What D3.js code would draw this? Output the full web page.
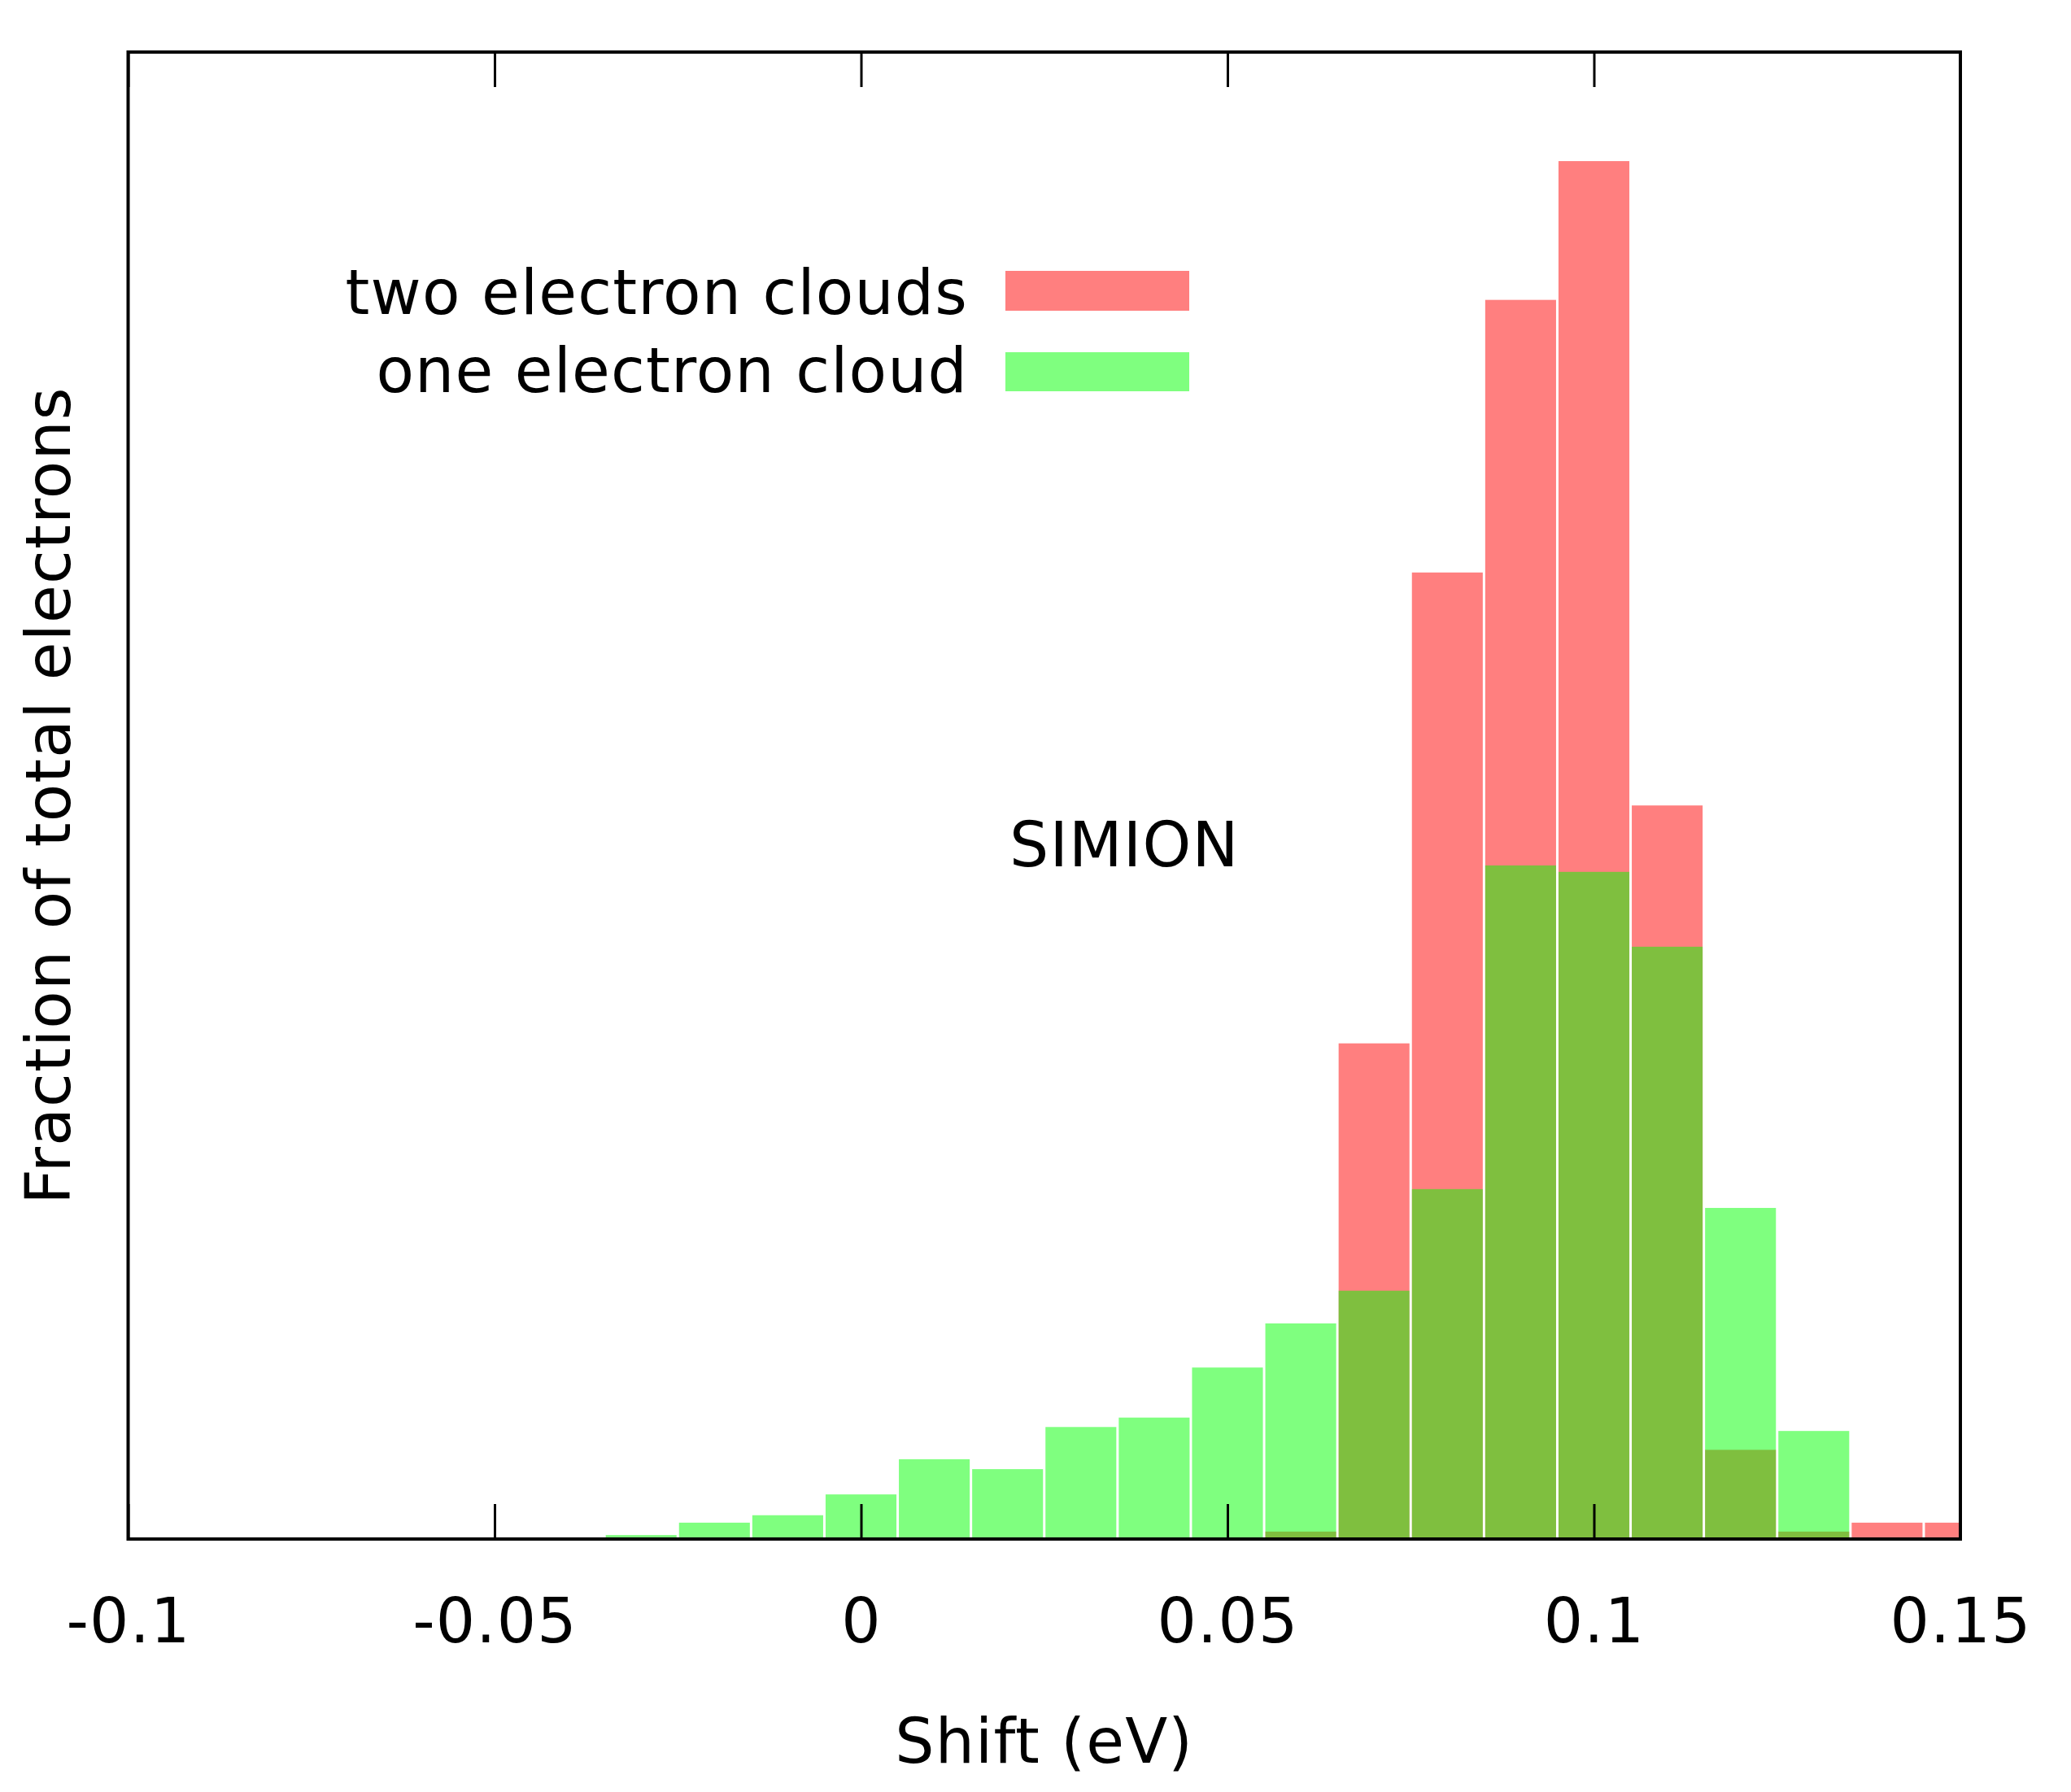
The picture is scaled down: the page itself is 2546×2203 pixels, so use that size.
<!DOCTYPE html>
<html>
<head>
<meta charset="utf-8">
<script src="https://cdn.jsdelivr.net/npm/d3@7"></script>
<style>
  html, body { margin: 0; padding: 0; background: #fff; }
  svg { display: block; }
  text { font-family: "DejaVu Sans", sans-serif; fill: #000; letter-spacing: 1.2px; }
</style>
</head>
<body>
<svg id="chart" width="2546" height="2203"></svg>
<script>
// ---- data ----
const binWidth = 0.01;
const twoCloudBins = [0.06, 0.07, 0.08, 0.09, 0.10, 0.11, 0.12, 0.13, 0.14, 0.15];
const twoCloudValues = [0.0015, 0.100, 0.195, 0.250, 0.278, 0.148, 0.018, 0.0015, 0.0033, 0.0033];
const oneCloudBins = [-0.03, -0.02, -0.01, 0.00, 0.01, 0.02, 0.03, 0.04, 0.05, 0.06, 0.07, 0.08, 0.09, 0.10, 0.11, 0.12, 0.13];
const oneCloudValues = [0.0008, 0.0033, 0.0048, 0.0090, 0.0161, 0.0141, 0.0226, 0.0245, 0.0346, 0.0435, 0.0501, 0.0706, 0.1359, 0.1346, 0.1195, 0.0668, 0.0218];
const xTickValues = [-0.1, -0.05, 0, 0.05, 0.1, 0.15];
const xTickLabels = ["-0.1", "-0.05", "0", "0.05", "0.1", "0.15"];
const seriesNames = ["two electron clouds", "one electron cloud"];
const seriesColors = ["rgba(255,0,0,0.5)", "rgba(0,255,0,0.5)"];
const xTitle = "Shift (eV)";
const yTitle = "Fraction of total electrons";
const annotation = "SIMION";

// ---- layout ----
const L = 157.5, R = 2410, T = 64, B = 1892;
const fontSize = 76;
const svg = d3.select("#chart");

const x = d3.scaleLinear().domain([-0.1, 0.15]).range([L, R]);
const y = d3.scaleLinear().domain([0, 0.3]).range([B, T]);

svg.append("defs").append("clipPath").attr("id", "plotclip")
  .append("rect").attr("x", L).attr("y", T).attr("width", R - L).attr("height", B - T);

const plot = svg.append("g").attr("clip-path", "url(#plotclip)");
const gap = 3;

function drawSeries(bins, values, color) {
  const data = bins.map((b, i) => ({ b, v: values[i] }));
  plot.append("g").selectAll("rect").data(data).enter().append("rect")
    .attr("x", d => x(d.b - binWidth / 2) + gap / 2)
    .attr("width", d => x(d.b + binWidth / 2) - x(d.b - binWidth / 2) - gap)
    .attr("y", d => y(d.v))
    .attr("height", d => y(0) - y(d.v))
    .attr("fill", color);
}
drawSeries(twoCloudBins, twoCloudValues, seriesColors[0]);
drawSeries(oneCloudBins, oneCloudValues, seriesColors[1]);

// ---- axes ----
const fmt = d => xTickLabels[xTickValues.indexOf(d)];
const bottomAxis = d3.axisBottom(x).tickValues(xTickValues).tickSize(-43).tickFormat(fmt);
const gb = svg.append("g").attr("transform", `translate(0,${B})`).call(bottomAxis);
gb.select(".domain").remove();
gb.selectAll(".tick line").attr("stroke", "#000").attr("stroke-width", 3);
gb.selectAll(".tick text")
  .attr("y", 127).attr("dy", 0)
  .style("font-family", "'DejaVu Sans', sans-serif")
  .style("font-size", fontSize + "px")
  .style("letter-spacing", "1.2px")
  .attr("fill", "#000");

const topAxis = d3.axisTop(x).tickValues(xTickValues).tickSize(-43).tickFormat("");
const gt = svg.append("g").attr("transform", `translate(0,${T})`).call(topAxis);
gt.select(".domain").remove();
gt.selectAll(".tick line").attr("stroke", "#000").attr("stroke-width", 3);

// frame
svg.append("rect").attr("x", L).attr("y", T).attr("width", R - L).attr("height", B - T)
  .attr("fill", "none").attr("stroke", "#000").attr("stroke-width", 4);

// ---- titles ----
svg.append("text").attr("x", (L + R) / 2).attr("y", 2167)
  .attr("text-anchor", "middle").style("font-size", fontSize + "px").text(xTitle);

svg.append("text").attr("transform", `translate(86,${(T + B) / 2}) rotate(-90)`)
  .attr("text-anchor", "middle").style("font-size", fontSize + "px").text(yTitle);

svg.append("text").attr("x", 1241).attr("y", 1065)
  .style("font-size", fontSize + "px").text(annotation);

// ---- legend ----
const legendRows = [
  { name: seriesNames[0], color: seriesColors[0], baseline: 386, top: 333, h: 49 },
  { name: seriesNames[1], color: seriesColors[1], baseline: 482, top: 433, h: 48 }
];
const lg = svg.append("g");
legendRows.forEach(r => {
  lg.append("text").attr("x", 1190).attr("y", r.baseline)
    .attr("text-anchor", "end").style("font-size", fontSize + "px").text(r.name);
  lg.append("rect").attr("x", 1236).attr("y", r.top).attr("width", 226).attr("height", r.h)
    .attr("fill", r.color);
});
</script>
</body>
</html>
